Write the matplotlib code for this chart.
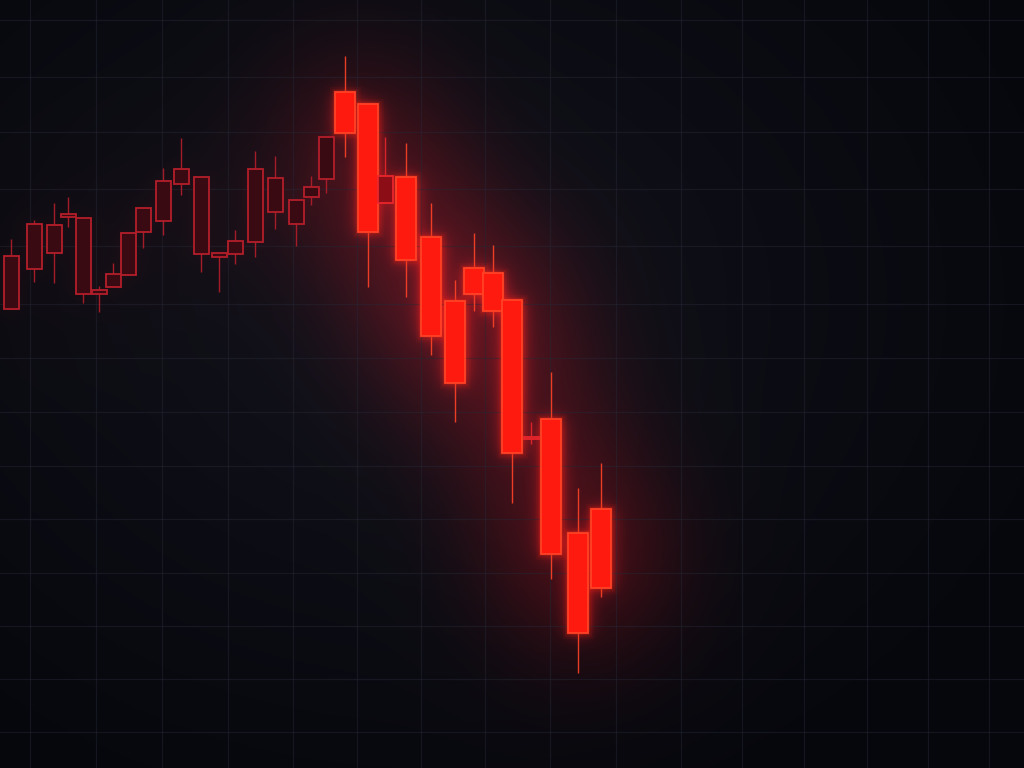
"""
Graphique en chandeliers — chute brutale après une phase haussière
(fond sombre, bougies récentes en rouge néon)
"""

import numpy as np
import matplotlib.pyplot as plt
from matplotlib.patches import Rectangle

W, H = 1024, 768

# ══════════════════════════════════════════════════════════════════════════════
# DONNÉES
# ══════════════════════════════════════════════════════════════════════════════

t_pos  = [11, 34, 54, 68, 83, 99, 113, 128, 143, 163, 181, 201, 219, 235, 255, 275,
          296, 311, 326, 345, 368, 385, 406, 431, 455, 474, 493, 512, 531, 551, 578, 601]
opens  = [459, 499, 515, 551, 550, 474, 481, 493, 536, 547, 584, 591, 511, 514, 526, 590,
          544, 571, 589, 676, 664, 592, 591, 531, 467, 500, 495, 468, 331, 349, 235, 180]
closes = [512, 544, 543, 554, 474, 478, 494, 535, 560, 587, 599, 514, 515, 527, 599, 556,
          568, 581, 631, 635, 536, 565, 508, 432, 385, 474, 457, 315, 329, 214, 135, 259]
highs  = [529, 548, 565, 571, 550, 482, 505, 535, 560, 600, 630, 591, 515, 538, 617, 612,
          568, 592, 631, 712, 664, 631, 625, 565, 488, 535, 523, 468, 346, 396, 280, 305]
lows   = [459, 486, 485, 541, 465, 456, 481, 493, 520, 533, 573, 496, 476, 504, 511, 539,
          522, 563, 575, 611, 481, 565, 471, 413, 346, 457, 441, 265, 324, 189, 95, 171]
# 0 = bougie ancienne (estompée), 1 = bougie récente (néon), 2 = intermédiaire
phase  = [0] * 19 + [1, 1, 2, 1, 1, 1, 1, 1, 1, 2, 1, 1, 1]

STYLES = {
    0: dict(face='#3a0a13', edge='#b31e2a', width=15, glow=0.12),
    1: dict(face='#ff1a10', edge='#ff4226', width=20, glow=1.0),
    2: dict(face='#8c0d16', edge='#e8262c', width=15, glow=0.45),
}

grid_x = [30, 96, 162, 228, 293, 357, 421, 485, 550, 616, 681, 742, 804, 867, 928, 989]
grid_y = [748, 691, 636, 579, 522, 464, 410, 356, 302, 249, 195, 142, 89, 36]


# ══════════════════════════════════════════════════════════════════════════════
# FOND : dégradé + halo rouge
# ══════════════════════════════════════════════════════════════════════════════

def blur(img, sigma, pad=220):
    """Flou gaussien par FFT (avec marge pour éviter le repliement)."""
    p = np.pad(img, pad)
    ky = np.fft.fftfreq(p.shape[0])[:, None]
    kx = np.fft.fftfreq(p.shape[1])[None, :]
    g = np.exp(-2 * (np.pi * sigma) ** 2 * (kx ** 2 + ky ** 2))
    out = np.real(np.fft.ifft2(np.fft.fft2(p) * g))
    return out[pad:-pad, pad:-pad]


yy, xx = np.mgrid[0:H, 0:W]
r = np.sqrt(((xx - 420) / 700) ** 2 + ((yy - 300) / 560) ** 2)
r = np.clip(r, 0, 1)
center = np.array([18, 19, 28]) / 255
edge = np.array([6, 7, 12]) / 255
bg = center[None, None, :] * (1 - r[..., None]) + edge[None, None, :] * r[..., None]

mask = np.zeros((H, W))
for x, o, c, ph in zip(t_pos, opens, closes, phase):
    w = STYLES[ph]['width']
    top, bot = H - max(o, c), H - min(o, c)
    mask[int(top):int(bot) + 1, int(x - w / 2):int(x + w / 2) + 1] += STYLES[ph]['glow']

glow_near = blur(mask, 8)
glow_far = blur(mask, 65)
bg[..., 0] += 0.5 * glow_near + 1.3 * glow_far
bg[..., 1] += 0.03 * glow_near + 0.05 * glow_far
bg[..., 2] += 0.03 * glow_near + 0.08 * glow_far
bg = np.clip(bg, 0, 1)


# ══════════════════════════════════════════════════════════════════════════════
# TRACÉ
# ══════════════════════════════════════════════════════════════════════════════

fig = plt.figure(figsize=(W / 100, H / 100), dpi=100)
ax = fig.add_axes([0, 0, 1, 1])
ax.imshow(bg, extent=(0, W, 0, H), origin='upper', aspect='auto', zorder=0)
ax.set_xlim(0, W)
ax.set_ylim(0, H)
ax.axis('off')

for gx in grid_x:
    ax.axvline(gx, color='#262836', lw=0.9, alpha=0.45, zorder=1)
for gy in grid_y:
    ax.axhline(gy, color='#262836', lw=0.9, alpha=0.45, zorder=1)

for x, o, c, hi, lo, ph in zip(t_pos, opens, closes, highs, lows, phase):
    st = STYLES[ph]
    w = st['width']
    bottom, height = min(o, c), max(abs(c - o), 2)
    # mèche
    ax.vlines(x, lo, hi, color=st['edge'], lw=1.0, alpha=0.9, zorder=3)
    # halo autour des bougies néon
    if ph == 1:
        for lw, a in [(8, 0.05), (5, 0.08), (3, 0.15)]:
            ax.add_patch(Rectangle((x - w / 2, bottom), w, height, fill=False,
                                   edgecolor='#ff2a14', lw=lw, alpha=a, zorder=3))
    ax.add_patch(Rectangle((x - w / 2, bottom), w, height, facecolor=st['face'],
                           edgecolor=st['edge'], lw=1.3, zorder=4))

plt.savefig('out.png', dpi=100)
